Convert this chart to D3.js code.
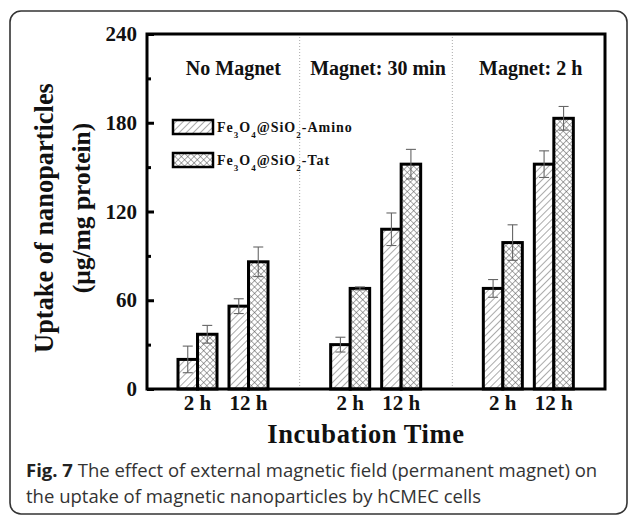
<!DOCTYPE html>
<html>
<head>
<meta charset="utf-8">
<script src="https://cdn.jsdelivr.net/npm/d3@7"></script>
<style>
  html, body { margin: 0; padding: 0; background: #fff; }
  svg { display: block; }
</style>
</head>
<body>
<svg id="chart" width="630" height="516"></svg>
<script>
// ---- data ----
const groups = ["No Magnet", "Magnet: 30 min", "Magnet: 2 h"];
const times = ["2 h", "12 h"];
const series = ["Amino", "Tat"];
// values[group][time] for each series
const aminoValues = [[20, 56], [30, 108], [68, 152]];
const aminoErrors = [[9, 5], [5, 11], [6, 9]];
const tatValues = [[37, 86], [68, 152], [99, 183]];
const tatErrors = [[6, 10], [1, 10], [12, 8]];
const yMajorTicks = [0, 60, 120, 180, 240];
const yMinorTicks = [30, 90, 150, 210];

const svg = d3.select("#chart");
const serif = "'Liberation Serif', 'Times New Roman', serif";

// outer rounded frame
svg.append("rect").attr("x", 10).attr("y", 11).attr("width", 617).attr("height", 503)
  .attr("rx", 11).attr("fill", "none").attr("stroke", "#333").attr("stroke-width", 1.6);

const pLeft = 147, pRight = 605, pTop = 34, pBottom = 389;

// patterns
const defs = svg.append("defs");
const pA = defs.append("pattern").attr("id", "hatchA").attr("patternUnits", "userSpaceOnUse")
  .attr("width", 5).attr("height", 5).attr("patternTransform", "rotate(45)");
pA.append("rect").attr("width", 5).attr("height", 5).attr("fill", "#fff");
pA.append("line").attr("x1", 0).attr("y1", 0).attr("x2", 0).attr("y2", 5)
  .attr("stroke", "#666").attr("stroke-width", 1.1);
const pT = defs.append("pattern").attr("id", "hatchT").attr("patternUnits", "userSpaceOnUse")
  .attr("width", 4.5).attr("height", 4.5).attr("patternTransform", "rotate(45)");
pT.append("rect").attr("width", 4.5).attr("height", 4.5).attr("fill", "#fff");
pT.append("line").attr("x1", 0).attr("y1", 0).attr("x2", 0).attr("y2", 4.5)
  .attr("stroke", "#555").attr("stroke-width", 1);
pT.append("line").attr("x1", 0).attr("y1", 0).attr("x2", 4.5).attr("y2", 0)
  .attr("stroke", "#555").attr("stroke-width", 1);
const fills = { Amino: "url(#hatchA)", Tat: "url(#hatchT)" };

// scales
const x0 = d3.scaleBand().domain(groups).range([pLeft, pRight]).padding(0);
const x1 = d3.scaleBand().domain(times).range([25, 127]).padding(0);
const x2 = d3.scaleBand().domain(series).range([6, 45]).padding(0);
const y = d3.scaleLinear().domain([0, 240]).range([pBottom, pTop]);

// dotted separators
groups.slice(1).forEach(g => {
  svg.append("line").attr("x1", x0(g)).attr("x2", x0(g)).attr("y1", pTop).attr("y2", pBottom)
    .attr("stroke", "#aaa").attr("stroke-width", 1).attr("stroke-dasharray", "1,2");
});

// group labels
const labelDx = [10, 2, 2];
groups.forEach((g, i) => {
  svg.append("text").attr("x", x0(g) + x0.bandwidth() / 2 + labelDx[i]).attr("y", 75)
    .attr("text-anchor", "middle").attr("font-family", serif).attr("font-weight", "bold")
    .attr("font-size", 20).attr("fill", "#111").text(g);
});

// bars data
const barData = [];
groups.forEach((g, gi) => {
  times.forEach((t, ti) => {
    barData.push({ g, t, s: "Amino", v: aminoValues[gi][ti], e: aminoErrors[gi][ti] });
    barData.push({ g, t, s: "Tat", v: tatValues[gi][ti], e: tatErrors[gi][ti] });
  });
});
const bx = d => x0(d.g) + x1(d.t) + x2(d.s);

svg.append("g").selectAll("rect").data(barData).join("rect")
  .attr("x", bx).attr("y", d => y(d.v)).attr("width", x2.bandwidth())
  .attr("height", d => y(0) - y(d.v))
  .attr("fill", d => fills[d.s]).attr("stroke", "#000").attr("stroke-width", 3);

// error bars
const eg = svg.append("g").attr("stroke", "#666").attr("stroke-width", 1.1);
barData.forEach(d => {
  const cx = bx(d) + x2.bandwidth() / 2;
  eg.append("line").attr("x1", cx).attr("x2", cx).attr("y1", y(d.v + d.e)).attr("y2", y(d.v - d.e));
  eg.append("line").attr("x1", cx - 5).attr("x2", cx + 5).attr("y1", y(d.v + d.e)).attr("y2", y(d.v + d.e));
  eg.append("line").attr("x1", cx - 5).attr("x2", cx + 5).attr("y1", y(d.v - d.e)).attr("y2", y(d.v - d.e));
});

// axes
const yAxis = d3.axisLeft(y).tickValues(yMajorTicks).tickSize(-7).tickPadding(10).tickFormat(d3.format("d"));
const ya = svg.append("g").attr("transform", `translate(${pLeft},0)`).call(yAxis);
ya.select(".domain").remove();
ya.selectAll(".tick line").attr("stroke", "#000").attr("stroke-width", 3);
ya.selectAll("text").attr("font-family", serif).attr("font-weight", "bold").attr("font-size", 21).attr("fill", "#111");
const yMinor = d3.axisLeft(y).tickValues(yMinorTicks).tickSize(-4).tickFormat("");
const ym = svg.append("g").attr("transform", `translate(${pLeft},0)`).call(yMinor);
ym.select(".domain").remove();
ym.selectAll(".tick line").attr("stroke", "#000").attr("stroke-width", 3);

// frame
svg.append("rect").attr("x", pLeft).attr("y", pTop).attr("width", pRight - pLeft).attr("height", pBottom - pTop)
  .attr("fill", "none").attr("stroke", "#000").attr("stroke-width", 3);

// category labels
groups.forEach(g => {
  times.forEach(t => {
    svg.append("text").attr("x", x0(g) + x1(t) + x1.bandwidth() / 2).attr("y", 410)
      .attr("text-anchor", "middle").attr("font-family", serif).attr("font-weight", "bold")
      .attr("font-size", 21).attr("fill", "#111").text(t);
  });
});

// axis titles
svg.append("text").attr("x", 366).attr("y", 443).attr("text-anchor", "middle")
  .attr("font-family", serif).attr("font-weight", "bold").attr("font-size", 26.5)
  .attr("letter-spacing", 0.6).attr("fill", "#111").text("Incubation Time");
svg.append("text").attr("transform", "translate(53,218) rotate(-90)").attr("text-anchor", "middle")
  .attr("font-family", serif).attr("font-weight", "bold").attr("font-size", 26.4)
  .attr("fill", "#111").text("Uptake of nanoparticles");
svg.append("text").attr("transform", "translate(90,208) rotate(-90)").attr("text-anchor", "middle")
  .attr("font-family", serif).attr("font-weight", "bold").attr("font-size", 25.5)
  .attr("fill", "#111").text("(μg/mg protein)");

// legend
const legendY = [120, 153];
const legendSuffix = { Amino: "-Amino", Tat: "-Tat" };
series.forEach((s, i) => {
  svg.append("rect").attr("x", 173).attr("y", legendY[i]).attr("width", 40).attr("height", 14)
    .attr("fill", fills[s]).attr("stroke", "#000").attr("stroke-width", 2.5);
  const t = svg.append("text").attr("x", 217).attr("y", legendY[i] + 12)
    .attr("font-family", serif).attr("font-weight", "bold").attr("font-size", 14)
    .attr("letter-spacing", 1).attr("fill", "#111");
  const parts = [["Fe", 0], ["3", 1], ["O", 0], ["4", 1], ["@SiO", 0], ["2", 1], [legendSuffix[s], 0]];
  let sub = false;
  parts.forEach(([txt, isSub]) => {
    const ts = t.append("tspan").text(txt);
    if (isSub) { ts.attr("font-size", 9).attr("dy", 6); sub = true; }
    else if (sub) { ts.attr("dy", -6); sub = false; }
  });
});

// caption
const sans = "'Open Sans', 'Noto Sans', sans-serif";
const cap1 = svg.append("text").attr("x", 26).attr("y", 477).attr("font-family", sans)
  .attr("font-size", 18.5).attr("fill", "#333");
cap1.append("tspan").attr("font-weight", "bold").attr("fill", "#222").text("Fig. 7");
cap1.append("tspan").text(" The effect of external magnetic field (permanent magnet) on");
svg.append("text").attr("x", 26).attr("y", 503).attr("font-family", sans)
  .attr("font-size", 18.5).attr("fill", "#333")
  .text("the uptake of magnetic nanoparticles by hCMEC cells");
</script>
</body>
</html>
